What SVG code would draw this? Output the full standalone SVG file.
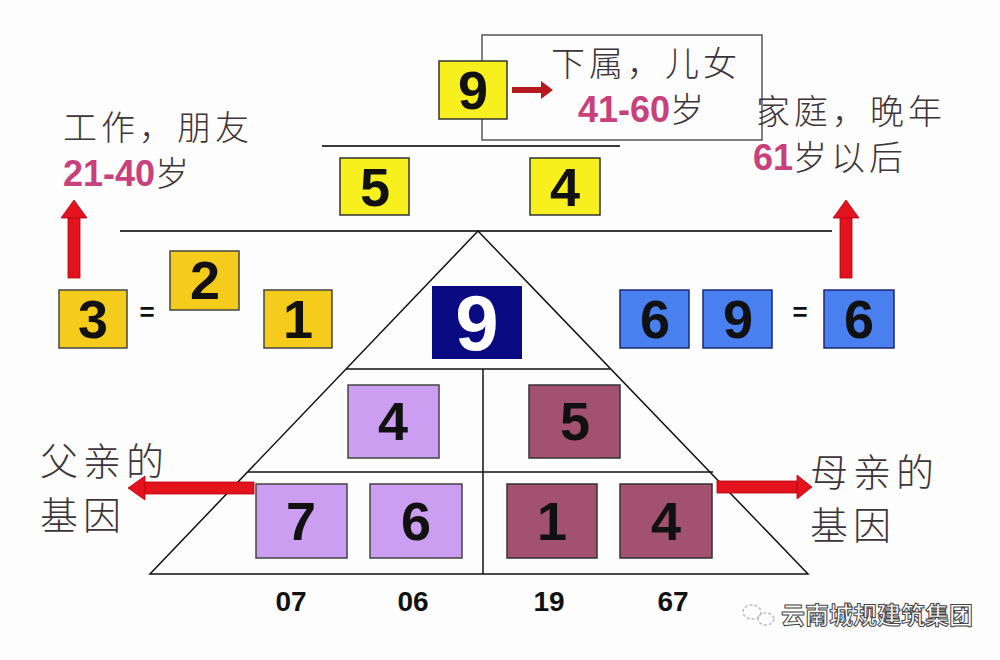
<svg xmlns="http://www.w3.org/2000/svg" width="1000" height="660" viewBox="0 0 1000 660">
<style>
.cjk{font-family:"Noto Sans CJK SC","Noto Sans",sans-serif;font-weight:300;fill:#3c3438}
.pk{font-family:"Liberation Sans",Arial,sans-serif;font-weight:bold;fill:#c8407c}
.dg{font-family:"Liberation Sans",Arial,sans-serif;font-weight:bold;font-size:54px;fill:#111;text-anchor:middle}
.lb{font-family:"Liberation Sans",Arial,sans-serif;font-weight:bold;font-size:28px;fill:#111;text-anchor:middle}
.eq{font-family:"Liberation Sans",Arial,sans-serif;font-weight:bold;font-size:26px;fill:#111;text-anchor:middle}
.y{fill:#f7f01e;stroke:#333;stroke-width:1.5}
.g{fill:#f6cc1c;stroke:#444;stroke-width:1.5}
.b{fill:#4a7ff0;stroke:#1a2a70;stroke-width:1.5}
.p{fill:#cc9ef2;stroke:#444;stroke-width:1.5}
.m{fill:#a2526e;stroke:#333;stroke-width:1.5}
.ln{stroke:#3a3a3a;stroke-width:2;fill:none}
.tl{stroke:#111;stroke-width:1.5;fill:none}
.ar{fill:#e3121c;stroke:#b00010;stroke-width:0.8}
</style>
<rect width="1000" height="660" fill="#fefdfe"/>

<g id="connectors">
  <line class="ln" x1="322" y1="146" x2="620" y2="146"/>
  <line class="ln" x1="120" y1="231" x2="832" y2="231"/>
  <polygon class="tl" points="478,231 150,574 808,574"/>
  <line class="tl" x1="346" y1="369" x2="610" y2="369"/>
  <line class="tl" x1="248" y1="472" x2="713" y2="472"/>
  <line class="tl" x1="483" y1="369" x2="483" y2="574"/>
  <rect x="512" y="87" width="31" height="6" fill="#b51a1e"/>
  <polygon points="541,81 553,90 541,99" fill="#b51a1e"/>
  <rect class="ar" x="68" y="216" width="12" height="62"/>
  <polygon class="ar" points="61,218 74,200 87,218"/>
  <rect class="ar" x="840" y="216" width="12" height="62"/>
  <polygon class="ar" points="833,218 846,200 859,218"/>
  <rect class="ar" x="142" y="482" width="112" height="12"/>
  <polygon class="ar" points="145,476 128,488 145,500"/>
  <rect class="ar" x="717" y="481" width="83" height="12"/>
  <polygon class="ar" points="797,475 812,487 797,499"/>
</g>

<g id="textbox-top">
  <rect x="482" y="35" width="280" height="105" fill="none" stroke="#555" stroke-width="1.5"/>
  <text class="cjk" x="551" y="76" font-size="34" letter-spacing="4">下属，儿女</text>
  <text x="578" y="122" font-size="36"><tspan class="pk">41-60</tspan><tspan class="cjk" font-size="34">岁</tspan></text>
</g>

<g id="n-top9"><rect class="y" x="439" y="61" width="68" height="58"/><text class="dg" x="473" y="109">9</text></g>
<g id="n-top5"><rect class="y" x="340" y="158" width="69" height="57"/><text class="dg" x="375" y="206">5</text></g>
<g id="n-top4"><rect class="y" x="530" y="158" width="70" height="57"/><text class="dg" x="565" y="206">4</text></g>

<g id="label-work">
  <text class="cjk" x="63" y="140" font-size="34" letter-spacing="4">工作，朋友</text>
  <text x="63" y="186" font-size="36"><tspan class="pk">21-40</tspan><tspan class="cjk" font-size="34">岁</tspan></text>
</g>
<g id="label-family">
  <text class="cjk" x="756" y="124" font-size="34" letter-spacing="4">家庭，晚年</text>
  <text x="753" y="170" font-size="36"><tspan class="pk">61</tspan><tspan class="cjk" font-size="34" letter-spacing="4">岁以后</tspan></text>
</g>

<g id="n-g3"><rect class="g" x="59" y="290" width="68" height="58"/><text class="dg" x="93" y="338">3</text></g>
<text class="eq" x="147" y="321">=</text>
<g id="n-g2"><rect class="g" x="170" y="251" width="69" height="59"/><text class="dg" x="205" y="299">2</text></g>
<g id="n-g1"><rect class="g" x="264" y="290" width="68" height="58"/><text class="dg" x="298" y="338">1</text></g>

<g id="n-center9"><rect x="432" y="286" width="90" height="73" fill="#0a0a82"/><text x="477" y="350" font-family="Liberation Sans, Arial, sans-serif" font-weight="bold" font-size="78" fill="#fff" text-anchor="middle">9</text></g>

<g id="n-b6"><rect class="b" x="620" y="290" width="69" height="58"/><text class="dg" x="655" y="338">6</text></g>
<g id="n-b9"><rect class="b" x="703" y="290" width="69" height="58"/><text class="dg" x="738" y="338">9</text></g>
<text class="eq" x="800" y="321">=</text>
<g id="n-b6b"><rect class="b" x="824" y="290" width="70" height="58"/><text class="dg" x="859" y="338">6</text></g>

<g id="n-p4"><rect class="p" x="348" y="385" width="91" height="73"/><text class="dg" x="393" y="440">4</text></g>
<g id="n-m5"><rect class="m" x="529" y="385" width="91" height="73"/><text class="dg" x="575" y="440">5</text></g>
<g id="n-p7"><rect class="p" x="256" y="484" width="91" height="74"/><text class="dg" x="301" y="540">7</text></g>
<g id="n-p6"><rect class="p" x="370" y="484" width="92" height="74"/><text class="dg" x="416" y="540">6</text></g>
<g id="n-m1"><rect class="m" x="507" y="484" width="90" height="74"/><text class="dg" x="552" y="540">1</text></g>
<g id="n-m4"><rect class="m" x="620" y="484" width="92" height="74"/><text class="dg" x="666" y="540">4</text></g>

<g id="labels-bottom">
  <text class="lb" x="291" y="611">07</text>
  <text class="lb" x="413" y="611">06</text>
  <text class="lb" x="549" y="611">19</text>
  <text class="lb" x="673" y="611">67</text>
</g>

<g id="label-father">
  <text class="cjk" x="40" y="475" font-size="38" letter-spacing="5">父亲的</text>
  <text class="cjk" x="40" y="529" font-size="38" letter-spacing="5">基因</text>
</g>
<g id="label-mother">
  <text class="cjk" x="810" y="486" font-size="38" letter-spacing="5">母亲的</text>
  <text class="cjk" x="810" y="539" font-size="38" letter-spacing="5">基因</text>
</g>

<g id="watermark">
  <ellipse cx="752" cy="612" rx="9" ry="7" fill="none" stroke="#bbb" stroke-width="1.5" stroke-dasharray="3 2"/>
  <ellipse cx="766" cy="619" rx="8" ry="6" fill="none" stroke="#bbb" stroke-width="1.5" stroke-dasharray="3 2"/>
  <text x="781" y="624" font-family="Noto Sans CJK SC, sans-serif" font-size="24" font-weight="bold" fill="#fff" stroke="#444" stroke-width="1">云南城规建筑集团</text>
</g>
</svg>
